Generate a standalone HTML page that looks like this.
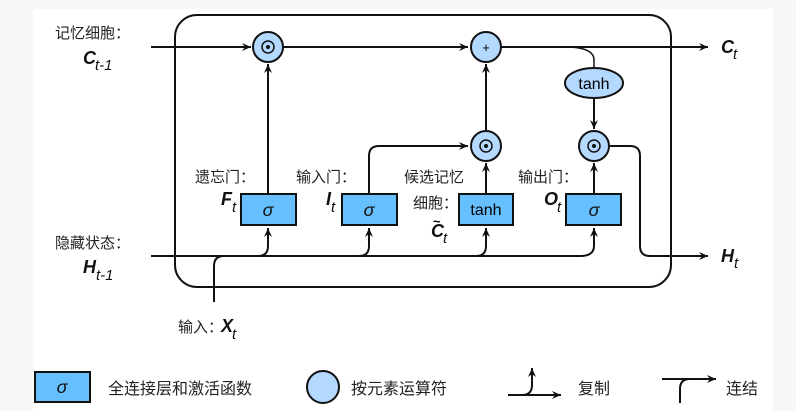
<!DOCTYPE html>
<html><head><meta charset="utf-8"><style>
html,body{margin:0;padding:0;background:#f8f8f8;}
svg{display:block;}
text{font-family:"Liberation Sans","Noto Sans CJK SC",sans-serif;}
.cn{font-size:15px;fill:#222;}
.lg{font-size:16px;fill:#222;}
.v{font-weight:bold;font-style:italic;font-size:18px;fill:#111;}
.s{font-style:italic;font-size:15px;fill:#111;}
.g{font-style:italic;font-size:18px;fill:#111;}
</style></head><body>
<svg width="796" height="411" viewBox="0 0 796 411" xmlns="http://www.w3.org/2000/svg">
<defs><marker id="a" markerWidth="10" markerHeight="8" refX="9" refY="4" orient="auto" markerUnits="userSpaceOnUse"><path d="M0,0 L9,4 L0,8 L3,4 Z" fill="#111"/></marker></defs>
<rect x="33" y="9" width="740" height="402" fill="#fff"/>
<g fill="none" stroke="#111" stroke-width="2">
<rect x="175" y="15" width="496" height="272" rx="22"/>
<line x1="151" y1="47" x2="251" y2="47" marker-end="url(#a)"/>
<line x1="283" y1="47" x2="468" y2="47" marker-end="url(#a)"/>
<line x1="501" y1="47" x2="708" y2="47" marker-end="url(#a)"/>
<path d="M565,47 Q594,47 594,60 L594,68" stroke-width="1.5"/>
<line x1="594" y1="98" x2="594" y2="129" marker-end="url(#a)"/>
<line x1="151" y1="256" x2="580" y2="256"/>
<path d="M214,302 L214,266 Q214,256 224,256"/>
<path d="M258,256 Q268,256 268,246 L268,228" marker-end="url(#a)"/>
<path d="M359,256 Q369,256 369,246 L369,228" marker-end="url(#a)"/>
<path d="M476,256 Q486,256 486,246 L486,228" marker-end="url(#a)"/>
<path d="M580,256 Q594,256 594,246 L594,228" marker-end="url(#a)"/>
<line x1="268" y1="193" x2="268" y2="64" marker-end="url(#a)"/>
<path d="M369,193 L369,156 Q369,146 379,146 L468,146" marker-end="url(#a)"/>
<line x1="486" y1="193" x2="486" y2="163" marker-end="url(#a)"/>
<line x1="486" y1="130" x2="486" y2="64" marker-end="url(#a)"/>
<line x1="594" y1="193" x2="594" y2="163" marker-end="url(#a)"/>
<path d="M609,146 L630,146 Q640,146 640,156 L640,246 Q640,256 650,256 L708,256" marker-end="url(#a)"/>
</g>
<g stroke="#111" stroke-width="2" fill="#b3d9ff">
<circle cx="268" cy="47" r="15"/>
<circle cx="486" cy="47" r="15"/>
<circle cx="486" cy="146" r="15"/>
<circle cx="594" cy="146" r="15"/>
<ellipse cx="594" cy="83" rx="29" ry="15"/>
</g>
<g fill="none" stroke="#111" stroke-width="1.5">
<circle cx="268" cy="47" r="6"/><circle cx="486" cy="146" r="6"/><circle cx="594" cy="146" r="6"/>
</g>
<g fill="#111"><circle cx="268" cy="47" r="2"/><circle cx="486" cy="146" r="2"/><circle cx="594" cy="146" r="2"/></g>
<text x="486" y="52" text-anchor="middle" font-size="13">+</text>
<text x="594" y="89" text-anchor="middle" font-size="16">tanh</text>
<g stroke="#111" stroke-width="2" fill="#66bfff">
<rect x="241" y="194" width="55" height="31"/>
<rect x="342" y="194" width="55" height="31"/>
<rect x="459" y="194" width="54" height="31"/>
<rect x="566" y="194" width="55" height="31"/>
</g>
<text x="268" y="216" text-anchor="middle" class="g">σ</text>
<text x="369" y="216" text-anchor="middle" class="g">σ</text>
<text x="486" y="215" text-anchor="middle" font-size="16">tanh</text>
<text x="594" y="216" text-anchor="middle" class="g">σ</text>
<text x="55" y="38" class="cn">记忆细胞：</text>
<text x="83" y="64" class="v">C</text><text x="95" y="70" class="s">t-1</text>
<text x="55" y="248" class="cn">隐藏状态：</text>
<text x="83" y="273" class="v">H</text><text x="96" y="280" class="s">t-1</text>
<text x="195" y="182" class="cn">遗忘门：</text>
<text x="221" y="205" class="v">F</text><text x="232" y="212" class="s">t</text>
<text x="296" y="182" class="cn">输入门：</text>
<text x="326" y="205" class="v">I</text><text x="331" y="212" class="s">t</text>
<text x="404" y="182" class="cn">候选记忆</text>
<text x="413" y="208" class="cn">细胞：</text>
<text x="431" y="237" class="v">C</text><text x="433" y="226" font-size="13" font-weight="bold">~</text><text x="443" y="243" class="s">t</text>
<text x="518" y="182" class="cn">输出门：</text>
<text x="544" y="205" class="v">O</text><text x="557" y="212" class="s">t</text>
<text x="721" y="53" class="v">C</text><text x="733" y="59" class="s">t</text>
<text x="721" y="262" class="v">H</text><text x="734" y="268" class="s">t</text>
<text x="178" y="332" class="cn">输入：</text>
<text x="221" y="332" class="v">X</text><text x="232" y="339" class="s">t</text>
<rect x="35" y="372" width="55" height="30" fill="#66bfff" stroke="#111" stroke-width="2"/>
<text x="62" y="393" text-anchor="middle" class="g">σ</text>
<text x="108" y="394" class="lg">全连接层和激活函数</text>
<circle cx="323" cy="387" r="16" fill="#b3d9ff" stroke="#111" stroke-width="2"/>
<text x="351" y="394" class="lg">按元素运算符</text>
<g fill="none" stroke="#111" stroke-width="2">
<line x1="508" y1="395" x2="561" y2="395" marker-end="url(#a)"/>
<path d="M522,395 Q532,395 532,385 L532,368" marker-end="url(#a)"/>
<line x1="662" y1="379" x2="716" y2="379" marker-end="url(#a)"/>
<path d="M680,403 L680,389 Q680,379 690,379"/>
</g>
<text x="578" y="394" class="lg">复制</text>
<text x="726" y="394" class="lg">连结</text>
</svg>
</body></html>
